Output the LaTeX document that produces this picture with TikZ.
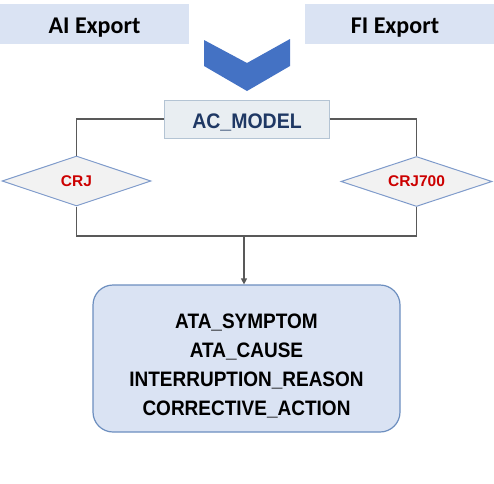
\documentclass[tikz,border=0pt]{standalone}
\usepackage{fontspec}
\setmainfont{Liberation Sans}
\newfontfamily\calib{Carlito}
\usetikzlibrary{shapes.geometric,arrows.meta}
\definecolor{hdrfill}{HTML}{DAE3F3}
\definecolor{chev}{HTML}{4472C4}
\definecolor{mfill}{HTML}{E9EEF2}
\definecolor{mdraw}{HTML}{B4C4D4}
\definecolor{navy}{HTML}{1F3864}
\definecolor{dfill}{HTML}{F2F2F2}
\definecolor{ddraw}{HTML}{7F9BCB}
\definecolor{lin}{HTML}{595959}
\definecolor{crjred}{HTML}{CC0000}
\definecolor{bfill}{HTML}{DAE3F3}
\definecolor{bdraw}{HTML}{6C8EBF}
\tikzset{
  hdr/.style={fill=hdrfill, draw=none, minimum width=#1, minimum height=40pt, inner sep=0pt},
  hdrtext/.style={inner sep=0pt, font=\calib\fontsize{24}{28}\selectfont\bfseries},
  modelbox/.style={fill=mfill, draw=mdraw, line width=1pt, minimum width=165pt, minimum height=38pt, inner sep=0pt, text=navy, font=\fontsize{19.5}{22}\selectfont\bfseries},
  dia/.style={diamond, aspect=3, fill=dfill, draw=ddraw, line width=1pt, minimum width=150pt, minimum height=50pt, inner sep=0pt, text=crjred, font=\fontsize{15.5}{18}\selectfont\bfseries},
  resbox/.style={rounded corners=20pt, fill=bfill, draw=bdraw, line width=1.2pt, minimum width=307pt, minimum height=147pt, inner sep=0pt},
  restext/.style={inner sep=0pt, align=center, font=\fontsize{19}{28.7}\selectfont\bfseries},
  conn/.style={draw=lin, line width=1.4pt},
}
\begin{document}
\begin{tikzpicture}[x=1pt,y=-1pt]
\useasboundingbox (0,0) rectangle (494,483);
\node[hdr=189pt] (ai) at (94.5,24) {};
\node[hdr=189pt] (fi) at (399.5,24) {};
\node[hdrtext, anchor=base] (ait) at (94.5,33) {AI Export};
\node[hdrtext, anchor=base] (fit) at (395,33) {FI Export};
\fill[chev] (204,40) -- (247,63) -- (290,39) -- (290,66) -- (247,91) -- (204,66) -- cycle;
\node[modelbox] (model) at (246.5,119) {};
\node[inner sep=0pt, anchor=base, text=navy, font=\fontsize{19.5}{22}\selectfont\bfseries] (modelt) at (247,128) {\scalebox{1}[1.08]{AC\_MODEL}};
\node[dia, minimum width=149pt] (crj) at (76.5,181) {CRJ};
\node[dia, minimum width=151pt] (crj7) at (416.5,181.5) {CRJ700};
\node[resbox] (res) at (246.5,358.5) {};
\node[restext] (rest) at (246.5,366) {\scalebox{1}[1.1]{ATA\_SYMPTOM}\\\scalebox{1}[1.1]{ATA\_CAUSE}\\\scalebox{1}[1.1]{INTERRUPTION\_REASON}\\\scalebox{1}[1.1]{CORRECTIVE\_ACTION}};
\coordinate (join) at (244,236);
\draw[conn] (model.west) -| (crj.north);
\draw[conn] (model.east) -| (crj7.north);
\draw[conn] (crj.south) |- (join) -| (crj7.south);
\draw[draw=lin, line width=1.2pt, -{Triangle[length=6pt,width=6pt]}] (join) -- (join |- res.north);
\end{tikzpicture}
\end{document}
